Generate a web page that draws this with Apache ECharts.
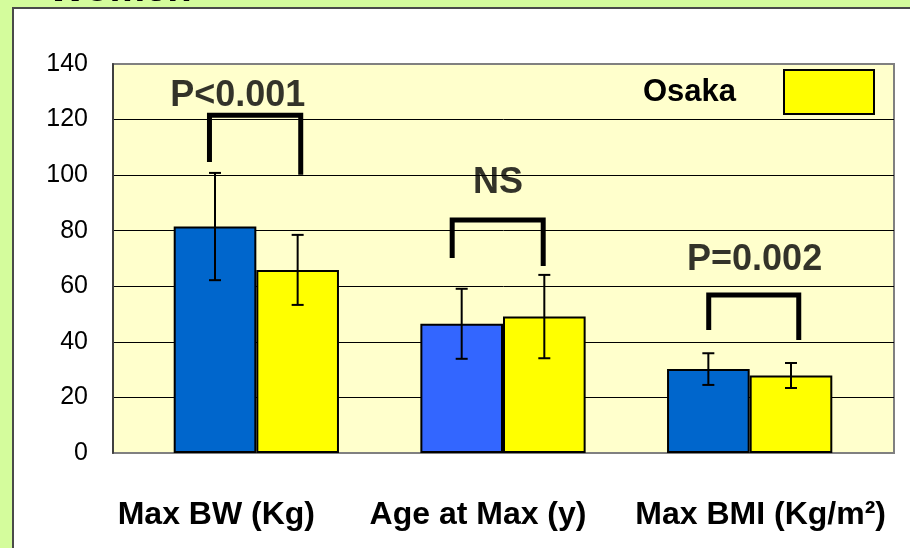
<!DOCTYPE html>
<html><head><meta charset="utf-8">
<script src="https://cdn.jsdelivr.net/npm/echarts@6/dist/echarts.min.js"></script>
<style>
html,body{margin:0;padding:0;background:#d4fc9c;width:910px;height:548px;overflow:hidden}
#panel{position:absolute;left:12px;top:7px;width:1000px;height:1000px;background:#fff;border-left:2px solid #4a4a4a;border-top:2px solid #4a4a4a}
#chart{position:absolute;left:0;top:0;width:910px;height:548px}
</style></head><body>
<div id="panel"></div><div id="chart"></div>
<script>
// ---- data ----
const categories = ['Max BW (Kg)', 'Age at Max (y)', 'Max BMI (Kg/m²)'];
const otherMeans = [81.5, 46.5, 30.2];
const otherSD = [19.3, 12.6, 5.7];
const osakaMeans = [65.9, 49.1, 27.9];
const osakaSD = [12.6, 15.0, 4.5];
const otherColors = ['#0066CC', '#3366FF', '#0066CC'];
const yMin = 0, yMax = 140, yInterval = 20;
const pLabels = ['P<0.001', 'NS', 'P=0.002'];
// p-label anchor [categoryUnits, value]
const pLabelAt = [[-0.075, 128.5], [0.98, 97], [2.02, 69.5]];
// bracket: [leftX, rightX, leftBottom, top, rightBottom] (x in category units)
const brackets = [
  [-0.19, 0.18, 104.7, 121.6, 100.1],
  [0.794, 1.163, 70.2, 83.9, 67.3],
  [1.834, 2.199, 44.3, 56.9, 40.7]
];

const FONT = 'Liberation Sans, Arial, sans-serif';
const GAP = 0.33;

function errRender(sign) {
  return function (params, api) {
    const i = api.value(0);
    const base = api.coord([i, 0]);
    const band = api.size([1, 0])[0];
    const barW = band * (1 - GAP) / 2;
    const cx = base[0] + sign * barW / 2;
    const yl = api.coord([i, api.value(1)])[1];
    const yh = api.coord([i, api.value(2)])[1];
    const cap = 6;
    const st = { stroke: '#000', lineWidth: 2 };
    return { type: 'group', children: [
      { type: 'line', shape: { x1: cx, y1: yl, x2: cx, y2: yh }, style: st },
      { type: 'line', shape: { x1: cx - cap, y1: yh, x2: cx + cap, y2: yh }, style: st },
      { type: 'line', shape: { x1: cx - cap, y1: yl, x2: cx + cap, y2: yl }, style: st }
    ]};
  };
}

const labelShift = ['l0', 'l1', 'l2'];
const catFont = { fontSize: 32, fontWeight: 'bold', fontFamily: FONT, color: '#000' };
const chart = echarts.init(document.getElementById('chart'));
const bracketSeries = brackets.map(b => ({
  type: 'line', xAxisIndex: 2, yAxisIndex: 1, silent: true, symbol: 'none', z: 10,
  lineStyle: { color: '#000', width: 5, join: 'miter' },
  data: [[b[0], b[2]], [b[0], b[3]], [b[1], b[3]], [b[1], b[4]]]
}));

chart.setOption({
  animation: false,
  graphic: [{
    type: 'text', x: 48, y: -30, z: 100,
    style: { text: 'Women', fontSize: 40, fontWeight: 'bold', fontFamily: FONT, fill: '#000', verticalAlign: 'top' }
  }],
  legend: {
    data: ['Osaka'], right: 35, top: 69, padding: 0, align: 'right',
    itemWidth: 90, itemHeight: 44, icon: 'rect',
    itemStyle: { borderColor: '#000', borderWidth: 2 },
    formatter: '{a|{name}}',
    textStyle: { rich: { a: { fontSize: 31, fontWeight: 'bold', fontFamily: FONT, color: '#000', padding: [0, 43, 0, 0] } } }
  },
  grid: [
    { left: 113, right: 16, top: 64, bottom: 95, show: true, backgroundColor: '#FFFFCC', borderColor: '#808080', borderWidth: 2, outerBoundsMode: 'none', containLabel: false },
    { left: 133, right: 37, top: 64, bottom: 95, outerBoundsMode: 'none', containLabel: false }
  ],
  xAxis: [
    { gridIndex: 0, type: 'value', min: 0, max: 1, show: false },
    { gridIndex: 1, type: 'category', data: categories,
      axisLine: { show: false }, axisTick: { show: false },
      axisLabel: {
        margin: 46, interval: 0, hideOverlap: false,
        formatter: (v, i) => '{' + labelShift[i] + '|' + v + '}',
        rich: {
          l0: Object.assign({ padding: [0, 80, 0, 0] }, catFont),
          l1: Object.assign({ padding: [0, 50, 0, 0] }, catFont),
          l2: Object.assign({ padding: [0, 0, 0, 22] }, catFont)
        }
      }
    },
    { gridIndex: 1, type: 'value', min: -0.5, max: 2.5, show: false }
  ],
  yAxis: [
    { gridIndex: 0, type: 'value', min: yMin, max: yMax, interval: yInterval,
      axisLine: { show: true, lineStyle: { color: '#404040', width: 2 } },
      axisTick: { show: false },
      axisLabel: { margin: 25, fontSize: 25, fontFamily: FONT, color: '#000' },
      splitLine: { show: true, showMinLine: false, showMaxLine: false, lineStyle: { color: '#000', width: 1 } }
    },
    { gridIndex: 1, type: 'value', min: yMin, max: yMax, show: false }
  ],
  series: [
    { name: 'Other', type: 'bar', xAxisIndex: 1, yAxisIndex: 1, barGap: '0%', barCategoryGap: (GAP * 100) + '%',
      data: otherMeans.map((v, i) => ({ value: v, itemStyle: { color: otherColors[i] } })),
      itemStyle: { borderColor: '#000', borderWidth: 2 } },
    { name: 'Osaka', type: 'bar', xAxisIndex: 1, yAxisIndex: 1, barGap: '0%', barCategoryGap: (GAP * 100) + '%',
      data: osakaMeans, itemStyle: { color: '#FFFF00', borderColor: '#000', borderWidth: 2 } },
    { type: 'custom', xAxisIndex: 1, yAxisIndex: 1, z: 5, silent: true, renderItem: errRender(-1),
      data: otherMeans.map((m, i) => [i, m - otherSD[i], m + otherSD[i]]) },
    { type: 'custom', xAxisIndex: 1, yAxisIndex: 1, z: 5, silent: true, renderItem: errRender(1),
      data: osakaMeans.map((m, i) => [i, m - osakaSD[i], m + osakaSD[i]]) },
    ...bracketSeries,
    { type: 'scatter', xAxisIndex: 2, yAxisIndex: 1, symbolSize: 0, silent: true, z: 11,
      data: pLabelAt.map((p, i) => ({ value: p, name: pLabels[i] })),
      label: { show: true, position: 'inside', formatter: '{b}', fontSize: 36, fontWeight: 'bold', fontFamily: FONT, color: '#000', textBorderWidth: 0 } }
  ]
});
</script>
</body></html>
